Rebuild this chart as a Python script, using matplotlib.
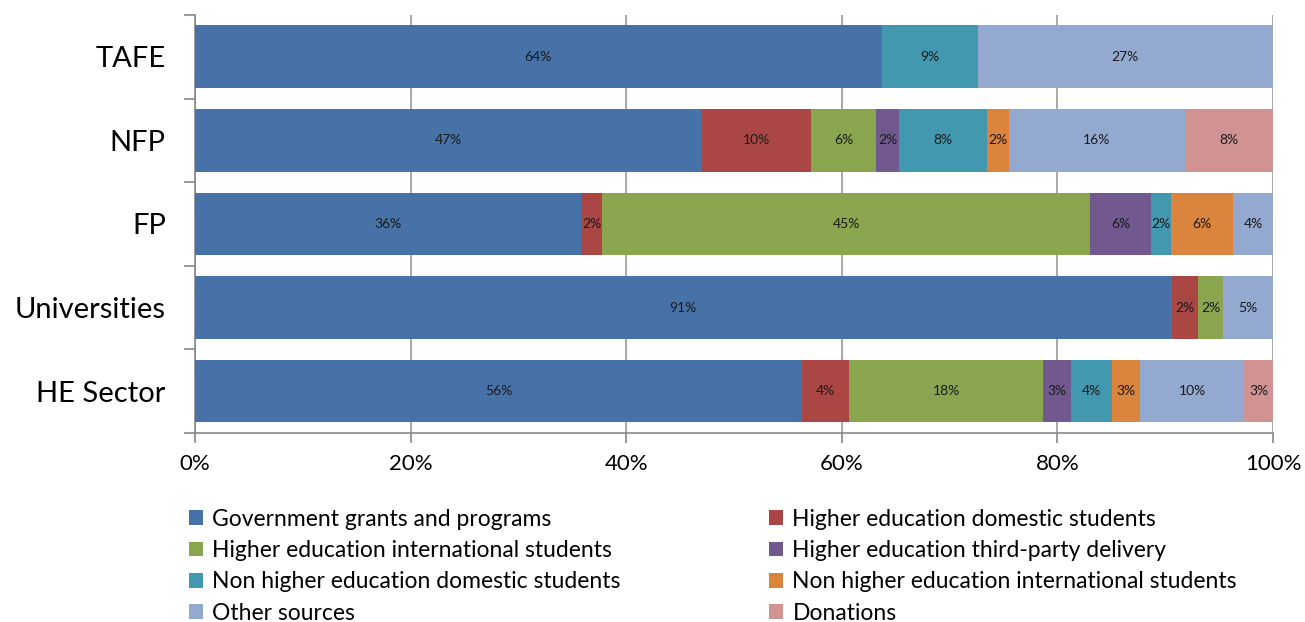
import matplotlib
matplotlib.use("Agg")
import matplotlib.pyplot as plt
from matplotlib.patches import Patch
import numpy as np

plt.rcParams['font.family'] = ['Lato', 'DejaVu Sans']

categories = ["TAFE", "NFP", "FP", "Universities", "HE Sector"]
series_names = [
    "Government grants and programs",
    "Higher education domestic students",
    "Higher education international students",
    "Higher education third-party delivery",
    "Non higher education domestic students",
    "Non higher education international students",
    "Other sources",
    "Donations",
]
colors = ["#4672A7", "#AA4644", "#89A54E", "#71588F", "#4298AF", "#DB843D", "#93A9CF", "#D19392"]

# values in percent, per series, order of categories
gov        = [63.7, 47.0, 35.8, 90.6, 56.3]
he_dom     = [0.0, 10.1, 2.0, 2.4, 4.4]
he_intl    = [0.0, 6.1, 45.2, 2.4, 18.0]
he_third   = [0.0, 2.1, 5.7, 0.0, 2.6]
nonhe_dom  = [8.9, 8.2, 1.8, 0.0, 3.8]
nonhe_intl = [0.0, 2.0, 5.8, 0.0, 2.6]
other      = [27.4, 16.3, 3.7, 4.6, 9.6]
donations  = [0.0, 8.2, 0.0, 0.0, 2.7]

series = [gov, he_dom, he_intl, he_third, nonhe_dom, nonhe_intl, other, donations]

fig = plt.figure(figsize=(13.05, 6.22), dpi=100)
ax = fig.add_axes([0.1494, 0.304, 0.8261, 0.672])

y = np.arange(len(categories))
left = np.zeros(len(categories))
for vals, name, col in zip(series, series_names, colors):
    v = np.array(vals) / 100.0
    bars = ax.barh(y, v, left=left, height=0.75, color=col, label=name, zorder=3)
    for b, val in zip(bars, vals):
        if val > 0:
            ax.text(b.get_x() + b.get_width() / 2, b.get_y() + b.get_height() / 2,
                    f"{val:.0f}%", ha="center", va="center", fontsize=10,
                    color="#1a1a1a", zorder=4)
    left += v

ax.set_xlim(0, 1)
ax.set_ylim(len(categories) - 0.5, -0.5)
ax.set_xticks(np.linspace(0, 1, 6))
ax.set_xticklabels([f"{int(t*100)}%" for t in np.linspace(0, 1, 6)], fontsize=16)
ax.set_yticks(y)
ax.set_yticklabels(categories, fontsize=21)
ax.set_yticks(np.arange(-0.5, len(categories), 1), minor=True)
ax.tick_params(axis="y", which="major", length=0, pad=21)
ax.tick_params(axis="y", which="minor", length=8, color="#888888", width=1.2)
ax.tick_params(axis="x", which="major", length=7, color="#888888", width=1.2, pad=8)
ax.grid(axis="x", color="#999999", linewidth=1.2, zorder=0)
for s in ["top", "right"]:
    ax.spines[s].set_visible(False)
for s in ["left", "bottom"]:
    ax.spines[s].set_color("#888888")
    ax.spines[s].set_linewidth(1.2)

order = [0, 2, 4, 6, 1, 3, 5, 7]
handles = [Patch(facecolor=colors[i], label=series_names[i]) for i in order]
fig.legend(handles=handles, ncol=2, loc="upper left", bbox_to_anchor=(0.145, 0.182),
           frameon=False, fontsize=16.5, handlelength=0.6, handleheight=0.6,
           handletextpad=0.4, columnspacing=6.5, labelspacing=0.45, borderaxespad=0,
           borderpad=0)

fig.savefig("out.png", dpi=100, facecolor="white")
